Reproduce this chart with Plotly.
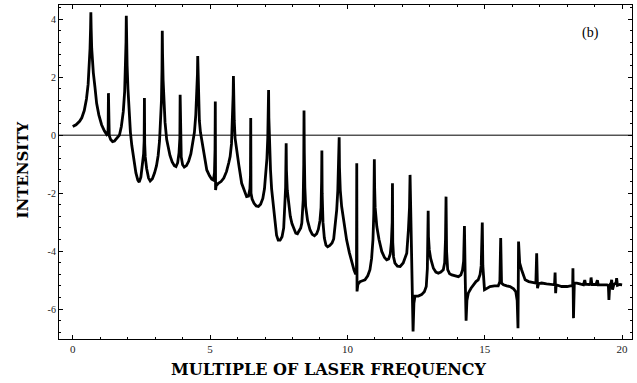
import plotly.graph_objects as go

# Harmonic spectrum: frequency in multiples of the laser frequency
freq = [
    0.00, 0.12, 0.25, 0.33, 0.42, 0.50, 0.56, 0.60, 0.63, 0.65, 0.66,
    0.67, 0.69, 0.72, 0.75, 0.81, 0.87, 0.95, 1.05, 1.15, 1.24, 1.28, 1.29, 1.30, 1.31,
    1.33, 1.38, 1.45, 1.52, 1.60, 1.70, 1.77, 1.84, 1.89, 1.92, 1.94, 1.95,
    1.96, 1.98, 2.01, 2.05, 2.10, 2.15, 2.22, 2.30, 2.37, 2.42, 2.48, 2.54, 2.58, 2.60,
    2.61, 2.62, 2.64, 2.69, 2.76, 2.82, 2.90, 2.98, 3.05, 3.11, 3.16, 3.20, 3.23, 3.25, 3.26,
    3.27, 3.29, 3.32, 3.36, 3.42, 3.48, 3.54, 3.62, 3.70, 3.76, 3.82, 3.87, 3.90, 3.91,
    3.92, 3.95, 4.00, 4.06, 4.14, 4.22, 4.30, 4.37, 4.43, 4.48, 4.52, 4.54, 4.55,
    4.56, 4.58, 4.61, 4.65, 4.70, 4.78, 4.88, 4.98, 5.06, 5.12, 5.16, 5.18, 5.19,
    5.20, 5.22, 5.30, 5.40, 5.50, 5.60, 5.68, 5.73, 5.78, 5.81, 5.83, 5.84, 5.85,
    5.86, 5.88, 5.91, 5.95, 5.99, 6.05, 6.15, 6.25, 6.33, 6.40, 6.45, 6.47, 6.48,
    6.49, 6.53, 6.60, 6.68, 6.76, 6.84, 6.92, 6.98, 7.03, 7.07, 7.10, 7.12, 7.13,
    7.14, 7.16, 7.20, 7.24, 7.30, 7.36, 7.42, 7.48, 7.55, 7.62, 7.68, 7.72, 7.75, 7.76, 7.77,
    7.78, 7.81, 7.85, 7.92, 7.98, 8.05, 8.12, 8.18, 8.24, 8.30, 8.34, 8.37, 8.39, 8.41, 8.42,
    8.43, 8.45, 8.48, 8.55, 8.64, 8.72, 8.80, 8.88, 8.94, 9.00, 9.04, 9.06, 9.07,
    9.08, 9.11, 9.16, 9.22, 9.28, 9.36, 9.44, 9.50, 9.56, 9.61, 9.65, 9.68, 9.70,
    9.71, 9.74, 9.79, 9.87, 9.97, 10.07, 10.16, 10.24, 10.30, 10.33, 10.34,
    10.35, 10.38, 10.46, 10.55, 10.64, 10.74, 10.82, 10.88, 10.93, 10.96, 10.98,
    10.99, 11.01, 11.04, 11.07, 11.15, 11.25, 11.35, 11.43, 11.50, 11.56, 11.60, 11.63, 11.64,
    11.65, 11.68, 11.73, 11.82, 11.92, 12.03, 12.12, 12.16, 12.22, 12.26, 12.28,
    12.33, 12.39, 12.42, 12.46, 12.58, 12.70, 12.80, 12.87, 12.91, 12.93, 12.94,
    12.95, 12.98, 13.03, 13.13, 13.22, 13.31, 13.40, 13.49, 13.54, 13.57, 13.59,
    13.61, 13.65, 13.72, 13.80, 13.92, 14.04, 14.13, 14.19, 14.23, 14.26,
    14.29, 14.32, 14.35, 14.40, 14.50, 14.58, 14.68, 14.76, 14.83, 14.87, 14.90, 14.91,
    14.93, 14.96, 14.99, 15.05, 15.19, 15.35, 15.49, 15.55, 15.58,
    15.61, 15.68, 15.80, 15.92, 16.05, 16.13, 16.18, 16.21, 16.23,
    16.27, 16.34, 16.47, 16.60, 16.71, 16.86, 16.89, 16.92, 16.96,
    17.07, 17.25, 17.44, 17.54, 17.56, 17.58, 17.60, 17.80, 18.00, 18.15, 18.20, 18.21, 18.23,
    18.26, 18.35, 18.50, 18.59, 18.64, 18.67, 18.80, 18.85, 18.87, 18.90,
    19.05, 19.10, 19.13, 19.30, 19.45, 19.50, 19.52, 19.55, 19.60, 19.62, 19.65,
    19.70, 19.78, 19.80, 19.83, 19.92, 20.00,
]

intensity = [
    0.30, 0.36, 0.48, 0.60, 0.85, 1.25, 1.75, 2.30, 3.00, 3.70, 4.24,
    3.70, 3.00, 2.50, 2.15, 1.65, 1.10, 0.70, 0.36, 0.15, 0.02, 0.05, 0.30, 1.45, 0.20,
    -0.02, -0.15, -0.22, -0.20, -0.10, 0.00, 0.30, 0.81, 1.50, 2.30, 3.20, 4.12,
    3.30, 2.40, 1.60, 0.80, 0.10, -0.35, -0.85, -1.30, -1.55, -1.62, -1.45, -1.05, -0.65, -0.20,
    1.28, -0.30, -0.75, -1.15, -1.48, -1.58, -1.50, -1.30, -1.05, -0.70, -0.20, 0.40, 1.20, 2.30, 3.60,
    2.80, 1.90, 1.10, 0.45, -0.15, -0.50, -0.70, -0.92, -1.05, -1.08, -0.95, -0.60, -0.10, 1.39,
    -0.20, -0.75, -1.02, -1.10, -1.05, -0.90, -0.65, -0.30, 0.10, 0.70, 1.50, 2.10, 2.73,
    2.10, 1.30, 0.50, 0.10, -0.20, -0.75, -1.20, -1.40, -1.52, -1.55, -1.30, -0.50, 1.16,
    -1.89, -1.75, -1.66, -1.60, -1.48, -1.25, -0.95, -0.74, -0.30, 0.30, 0.90, 1.40, 2.04,
    1.30, 0.50, -0.10, -0.40, -0.60, -1.05, -1.66, -1.95, -2.12, -2.10, -1.85, -1.40, 0.59,
    -2.00, -2.20, -2.35, -2.44, -2.46, -2.38, -2.18, -1.85, -1.40, -0.80, -0.10, 0.70, 1.56,
    0.60, -0.30, -1.20, -1.85, -2.50, -2.92, -3.45, -3.62, -3.62, -3.50, -3.20, -2.60, -1.80, -1.00, -0.28,
    -1.20, -1.90, -2.30, -2.80, -3.05, -3.25, -3.38, -3.40, -3.32, -3.20, -3.03, -2.70, -2.23, -1.00, 0.85,
    -0.60, -1.80, -2.46, -2.95, -3.27, -3.42, -3.47, -3.40, -3.25, -2.95, -2.50, -1.60, -0.53,
    -2.00, -3.00, -3.55, -3.80, -3.85, -3.80, -3.72, -3.58, -3.10, -2.58, -1.90, -1.10, -0.07,
    -1.10, -1.90, -2.46, -3.05, -3.61, -4.05, -4.41, -4.65, -4.80, -4.60, -0.97,
    -5.39, -5.15, -5.05, -5.02, -4.99, -4.85, -4.64, -4.25, -3.60, -2.70, -0.83,
    -1.80, -2.50, -2.90, -3.15, -3.60, -4.01, -4.22, -4.30, -4.27, -4.10, -3.70, -3.00, -1.66,
    -3.70, -4.20, -4.41, -4.52, -4.53, -4.41, -4.20, -4.07, -3.27, -2.50, -1.37,
    -4.50, -6.77, -5.80, -5.55, -5.55, -5.50, -5.40, -5.22, -4.60, -3.60, -2.61,
    -3.50, -3.95, -4.25, -4.59, -4.72, -4.76, -4.72, -4.64, -4.40, -3.60, -2.12,
    -4.00, -4.64, -4.78, -4.82, -4.86, -4.88, -4.82, -4.65, -4.35, -3.13,
    -5.00, -6.40, -5.70, -5.45, -5.28, -5.16, -5.05, -4.99, -4.80, -4.50, -3.80, -3.01,
    -4.50, -5.10, -5.33, -5.30, -5.22, -5.20, -5.20, -5.05, -3.55,
    -5.10, -5.16, -5.20, -5.22, -5.30, -5.40, -5.70, -6.66, -3.67,
    -4.40, -4.64, -4.99, -5.05, -5.08, -5.10, -4.07, -5.28, -5.12,
    -5.10, -5.13, -5.16, -5.16, -4.74, -5.45, -5.16, -5.22, -5.22, -5.20, -5.18, -4.59, -6.31,
    -5.10, -5.10, -5.14, -5.16, -5.00, -5.14, -5.15, -5.12, -4.91, -5.15,
    -5.15, -5.00, -5.16, -5.15, -5.16, -5.20, -5.68, -5.16, -5.10, -4.99, -5.33,
    -5.15, -5.10, -4.93, -5.18, -5.15, -5.16,
]

x_ticks = [0, 5, 10, 15, 20]
x_tick_labels = ["0", "5", "10", "15", "20"]
y_ticks = [-6, -4, -2, 0, 2, 4]
y_tick_labels = ["-6", "-4", "-2", "0", "2", "4"]

x_title = "MULTIPLE OF LASER FREQUENCY"
y_title = "INTENSITY"
panel_label = "(b)"

serif = "Liberation Serif, DejaVu Serif, serif"
title_serif = "DejaVu Serif, Liberation Serif, serif"

fig = go.Figure()
fig.add_trace(go.Scatter(
    x=freq, y=intensity, mode="lines",
    line=dict(color="black", width=2.8),
    showlegend=False, hoverinfo="skip",
))

# zero reference line
fig.add_hline(y=0, line=dict(color="black", width=1))

axis_common = dict(
    showline=True, linecolor="black", linewidth=1.2, mirror="ticks",
    ticks="inside", ticklen=4, tickwidth=1, tickcolor="black",
    showgrid=False, zeroline=False,
)

fig.update_xaxes(
    range=[-0.5, 20.36], tickvals=x_ticks, ticktext=x_tick_labels,
    tickfont=dict(family=serif, size=11, color="#222"),
    minor=dict(ticks="inside", dtick=1, tick0=0, ticklen=2, tickcolor="black", showgrid=False),
    **axis_common,
)
fig.update_yaxes(
    range=[-7.03, 4.49], tickvals=y_ticks, ticktext=y_tick_labels,
    tickfont=dict(family=serif, size=10, color="#222"),
    minor=dict(ticks="inside", dtick=0.4, tick0=0, ticklen=2, tickcolor="black", showgrid=False),
    **axis_common,
)

# axis titles and panel label
fig.add_annotation(
    text=x_title, x=0.471, y=-0.092, xref="paper", yref="paper",
    xanchor="center", yanchor="middle", showarrow=False,
    font=dict(family=title_serif, size=16, color="black", weight="bold"),
)
fig.add_annotation(
    text=y_title, x=-0.0637, y=0.506, xref="paper", yref="paper",
    xanchor="center", yanchor="middle", textangle=-90, showarrow=False,
    font=dict(family=title_serif, size=15, color="black", weight="bold"),
)
fig.add_annotation(
    text=panel_label, x=0.928, y=0.915, xref="paper", yref="paper",
    xanchor="center", yanchor="middle", showarrow=False,
    font=dict(family=serif, size=14, color="black"),
)

fig.update_layout(
    width=637, height=383,
    margin=dict(l=59, r=5, t=5, b=44),
    paper_bgcolor="white", plot_bgcolor="white",
)

fig.write_html("out.html")
